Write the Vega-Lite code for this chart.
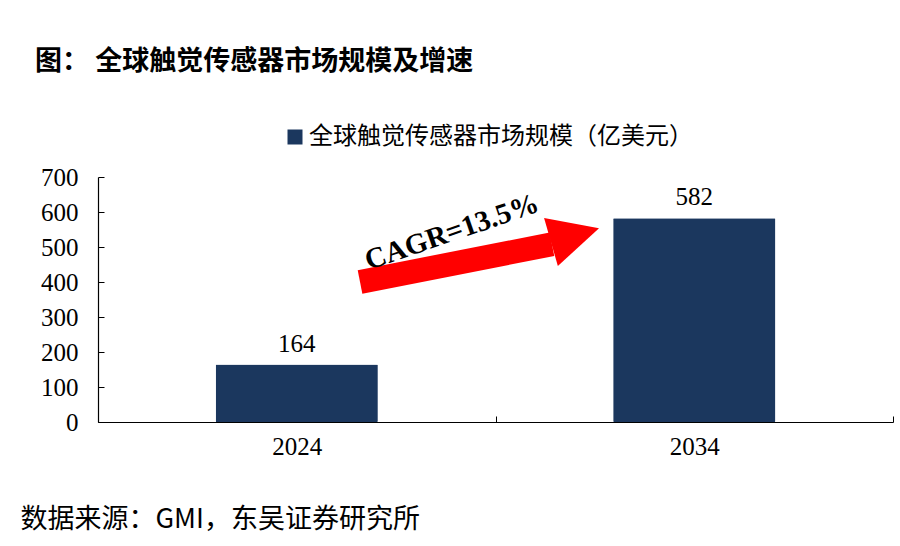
{
  "$schema": "https://vega.github.io/schema/vega-lite/v6.json",
  "width": 795,
  "height": 245,
  "autosize": {"type": "none"},
  "padding": {"left": 98, "top": 177, "right": 7, "bottom": 124},
  "background": "white",
  "config": {"view": {"stroke": null}},
  "title": {
    "text": "图： 全球触觉传感器市场规模及增速",
    "font": "Noto Sans CJK SC",
    "fontSize": 27,
    "fontWeight": "bold",
    "color": "#000000",
    "anchor": "start",
    "frame": "group",
    "dx": -63,
    "offset": 49
  },
  "encoding": {
    "y": {
      "field": "value", "type": "quantitative",
      "scale": {"domain": [0, 700], "nice": false, "zero": true},
      "axis": {
        "title": null,
        "values": [0, 100, 200, 300, 400, 500, 600, 700],
        "labelOverlap": false,
        "grid": false,
        "labelFont": "Liberation Serif",
        "labelFontSize": 25,
        "labelColor": "#000000",
        "labelPadding": 26,
        "tickSize": -6,
        "tickColor": "#000000",
        "domainColor": "#000000",
        "domainWidth": 1.2
      }
    }
  },
  "layer": [
    {
      "data": {"name": "bars", "values": [
        {"year": "2024", "value": 164, "series": "全球触觉传感器市场规模（亿美元）"},
        {"year": "2034", "value": 582, "series": "全球触觉传感器市场规模（亿美元）"}
      ]},
      "mark": {"type": "bar", "width": {"band": 0.408}, "cornerRadius": 1},
      "encoding": {
        "x": {
          "field": "year", "type": "nominal",
          "scale": {"paddingInner": 0, "paddingOuter": 0},
          "axis": {
            "title": "数据来源：GMI，东吴证券研究所",
            "titleFont": "Noto Sans CJK SC",
            "titleFontSize": 27,
            "titleFontWeight": "normal",
            "titleColor": "#000000",
            "titleX": -78,
            "titleY": 97,
            "titleAlign": "left",
            "titleBaseline": "middle",
            "labelAngle": 0,
            "labelFont": "Liberation Serif",
            "labelFontSize": 25,
            "labelColor": "#000000",
            "labelPadding": 18,
            "tickBand": "extent",
            "tickSize": -6,
            "tickColor": "#000000",
            "domainColor": "#000000",
            "domainWidth": 1.2
          }
        },
        "color": {
          "field": "series", "type": "nominal",
          "scale": {"range": ["#1b375e"]},
          "legend": {
            "title": null,
            "orient": "none",
            "legendX": 185,
            "legendY": -52,
            "symbolType": "square",
            "symbolSize": 225,
            "symbolStrokeWidth": 0,
            "labelFont": "Noto Sans CJK SC",
            "labelFontSize": 24,
            "labelColor": "#000000",
            "labelOffset": 2,
            "labelLimit": 600
          }
        }
      }
    },
    {
      "data": {"name": "bars"},
      "mark": {"type": "text", "baseline": "alphabetic", "dy": -13, "font": "Liberation Serif", "fontSize": 25, "color": "#000000"},
      "encoding": {
        "x": {"field": "year", "type": "nominal", "scale": {"paddingInner": 0, "paddingOuter": 0}, "axis": null},
        "text": {"field": "value", "type": "quantitative"}
      }
    },
    {
      "data": {"values": [
        {"ax": 0.3296, "value": 400},
        {"ax": 0.571, "value": 508}
      ]},
      "mark": {"type": "line", "color": "#ff0000", "strokeWidth": 24, "strokeCap": "butt"},
      "encoding": {
        "x": {"field": "ax", "type": "quantitative", "scale": {"domain": [0, 1]}, "axis": null}
      }
    },
    {
      "data": {"values": [{"ax": 0.6, "value": 534}]},
      "mark": {"type": "point", "shape": "M -1 -1 L 1 0 L -1 1 Z", "filled": true, "color": "#ff0000", "opacity": 1, "size": 2500, "angle": -16},
      "encoding": {
        "x": {"field": "ax", "type": "quantitative", "scale": {"domain": [0, 1]}, "axis": null}
      }
    },
    {
      "data": {"values": [{"ax": 0.445, "value": 543, "label": "CAGR=13.5%"}]},
      "mark": {"type": "text", "font": "Liberation Serif", "fontSize": 29, "fontWeight": "bold", "angle": -19, "color": "#000000"},
      "encoding": {
        "x": {"field": "ax", "type": "quantitative", "scale": {"domain": [0, 1]}, "axis": null},
        "text": {"field": "label", "type": "nominal"}
      }
    }
  ],
  "resolve": {"scale": {"x": "independent"}, "axis": {"x": "independent"}}
}
